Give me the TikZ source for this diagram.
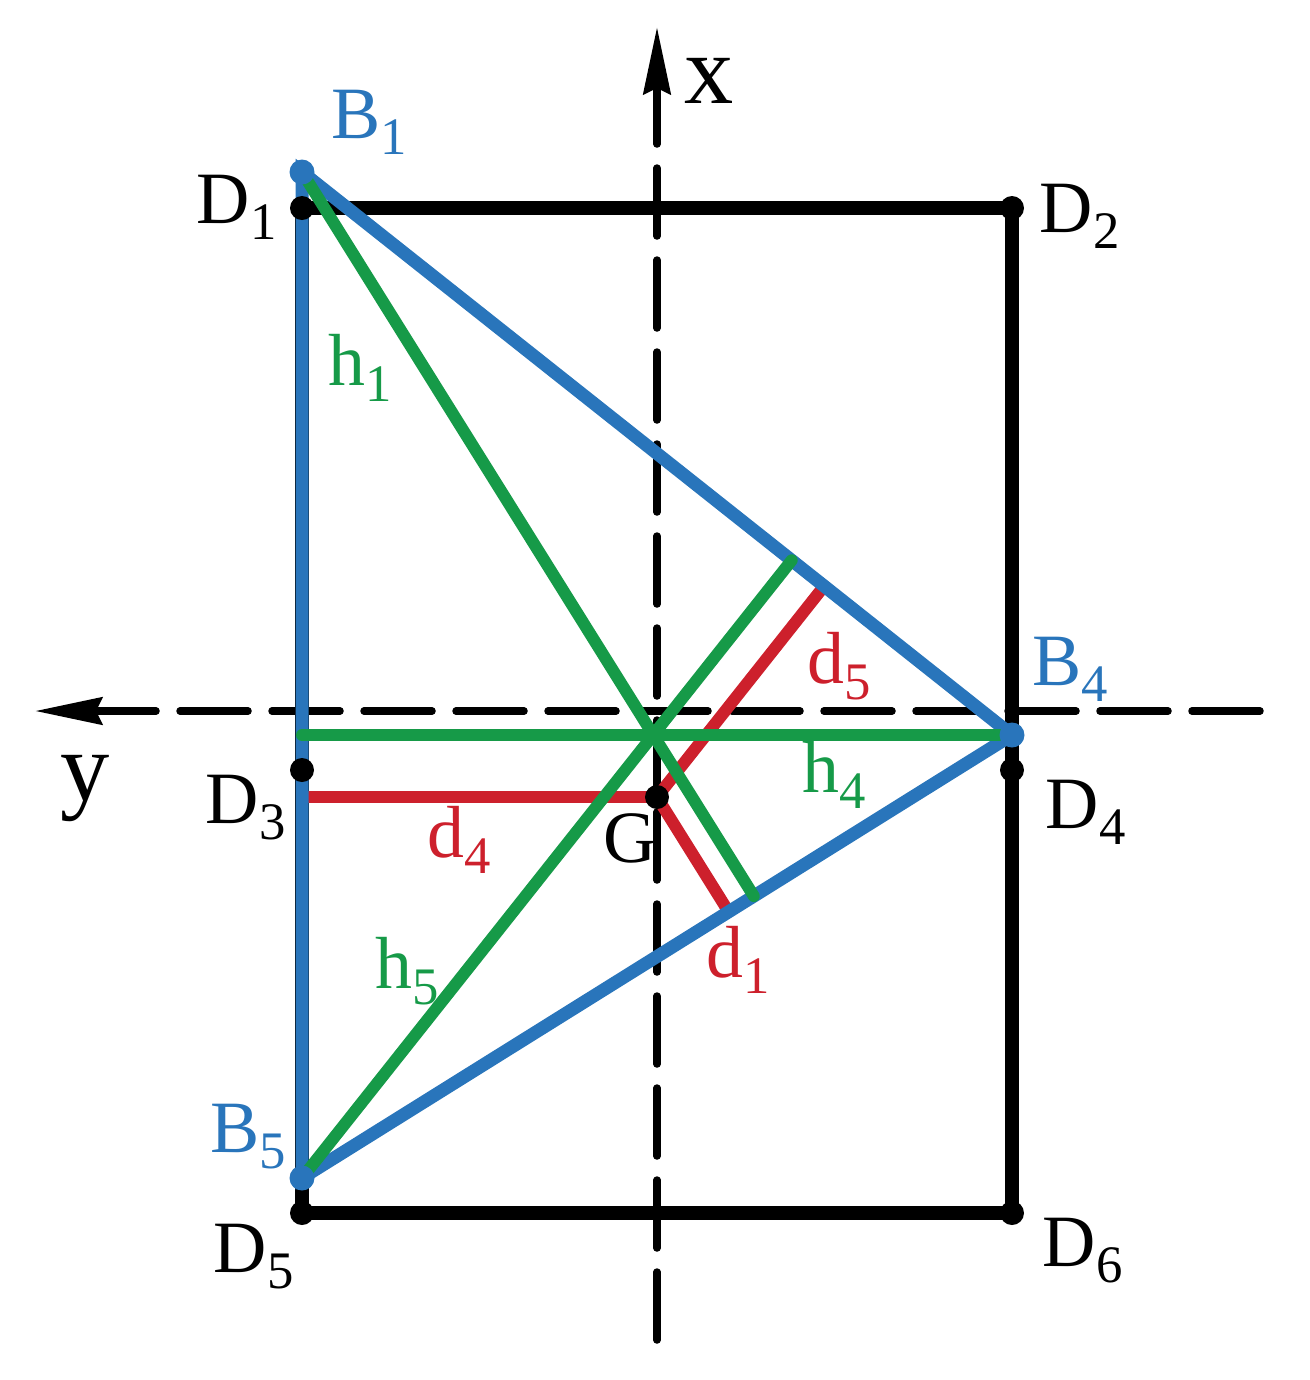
\documentclass[tikz,border=0pt]{standalone}
\usepackage{fontspec}
\setmainfont{Liberation Serif}
\usetikzlibrary{calc,arrows.meta}

\definecolor{triblue}{RGB}{41,117,187}
\definecolor{altgreen}{RGB}{22,154,72}
\definecolor{distred}{RGB}{205,32,44}

\newcommand{\lowidx}[1]{\raisebox{-4.8pt}{\fontsize{15}{15}\selectfont #1}}

\begin{document}
\begin{tikzpicture}[x=0.1mm,y=-0.1mm,
	frame_line/.style={draw=black,line width=1.35mm,line cap=round},
	tri_line/.style={draw=triblue,line width=1.3mm,line cap=round},
	alt_line/.style={draw=altgreen,line width=1.2mm,line cap=round},
	dist_line/.style={draw=distred,line width=1.2mm,line cap=round},
	axis_line/.style={draw=black,line width=0.75mm,line cap=round,dash pattern=on 6.8mm off 2.4mm},
	axis_tip/.style={-{Stealth[length=6.7mm,width=2.7mm,inset=0.6mm]}},
	pt_label/.style={anchor=base west,inner sep=0pt,font=\fontsize{21}{25}\selectfont},
	axis_label/.style={anchor=base west,inner sep=0pt,font=\fontsize{28}{32}\selectfont}]
		
		\useasboundingbox (0,0) rectangle (1310,1380);
		
		% corners of the base
		\coordinate (D1) at (302,208);
		\coordinate (D2) at (1012,208);
		\coordinate (D3) at (302,770);
		\coordinate (D4) at (1012,770);
		\coordinate (D5) at (302,1213);
		\coordinate (D6) at (1012,1213);
		% support points
		\coordinate (B1) at (302,172);
		\coordinate (B4) at (1012,735);
		\coordinate (B5) at (302,1178);
		\coordinate (G) at (657,797);
		% axes ends
		\coordinate (xbot) at (657,1340);
		\coordinate (xtop) at (657,27);
		\coordinate (yright) at (1260,711);
		\coordinate (yleft) at (35,711);
		% feet of heights and distances
		\coordinate (H1) at ($(B4)!(B1)!(B5)$);
		\coordinate (H4) at ($(B1)!(B4)!(B5)$);
		\coordinate (H5) at ($(B1)!(B5)!(B4)$);
		\coordinate (F1) at ($(B4)!(G)!(B5)$);
		\coordinate (F4) at ($(B1)!(G)!(B5)$);
		\coordinate (F5) at ($(B1)!(G)!(B4)$);
		
		\draw[axis_line,axis_tip] (xbot) -- (xtop);
		\draw[axis_line,axis_tip] (yright) -- (yleft);
		
		\draw[frame_line] (D1) -- (D2) -- (D6) -- (D5) -- cycle;
		
		\draw[dist_line] (G) -- (F4);
		\draw[dist_line] (G) -- (F5);
		\draw[dist_line] (G) -- (F1);
		
		\draw[tri_line] (B1) -- (B4) -- (B5) -- cycle;
		
		\draw[alt_line] (B1) -- (H1);
		\draw[alt_line] (B4) -- (H4);
		\draw[alt_line] (B5) -- (H5);
		
		\foreach \p in {D1,D2,D3,D4,D5,D6,G}
			\fill[black] (\p) circle[radius=1.2mm];
		\foreach \p in {B1,B4,B5}
			\fill[triblue] (\p) circle[radius=1.25mm];
		
		\node[axis_label] (xlab) at (684,103) {x};
		\node[axis_label] (ylab) at (60,800) {y};
		
		\node[pt_label] (lD1) at (196,223) {D\lowidx{1}};
		\node[pt_label] (lD2) at (1039,232) {D\lowidx{2}};
		\node[pt_label] (lD3) at (205,823) {D\lowidx{3}};
		\node[pt_label] (lD4) at (1045,828) {D\lowidx{4}};
		\node[pt_label] (lD5) at (213,1272) {D\lowidx{5}};
		\node[pt_label] (lD6) at (1042,1266) {D\lowidx{6}};
		\node[pt_label] (lG) at (603,862) {G};
		
		\node[pt_label,text=triblue] (lB1) at (331,138) {B\lowidx{1}};
		\node[pt_label,text=triblue] (lB4) at (1032,685) {B\lowidx{4}};
		\node[pt_label,text=triblue] (lB5) at (210,1152) {B\lowidx{5}};
		
		\node[pt_label,text=altgreen] (lh1) at (328,385) {h\lowidx{1}};
		\node[pt_label,text=altgreen] (lh4) at (802,792) {h\lowidx{4}};
		\node[pt_label,text=altgreen] (lh5) at (375,988) {h\lowidx{5}};
		
		\node[pt_label,text=distred] (ld1) at (706,977) {d\lowidx{1}};
		\node[pt_label,text=distred] (ld4) at (427,857) {d\lowidx{4}};
		\node[pt_label,text=distred] (ld5) at (807,683) {d\lowidx{5}};
		
		\end{tikzpicture}
\end{document}
